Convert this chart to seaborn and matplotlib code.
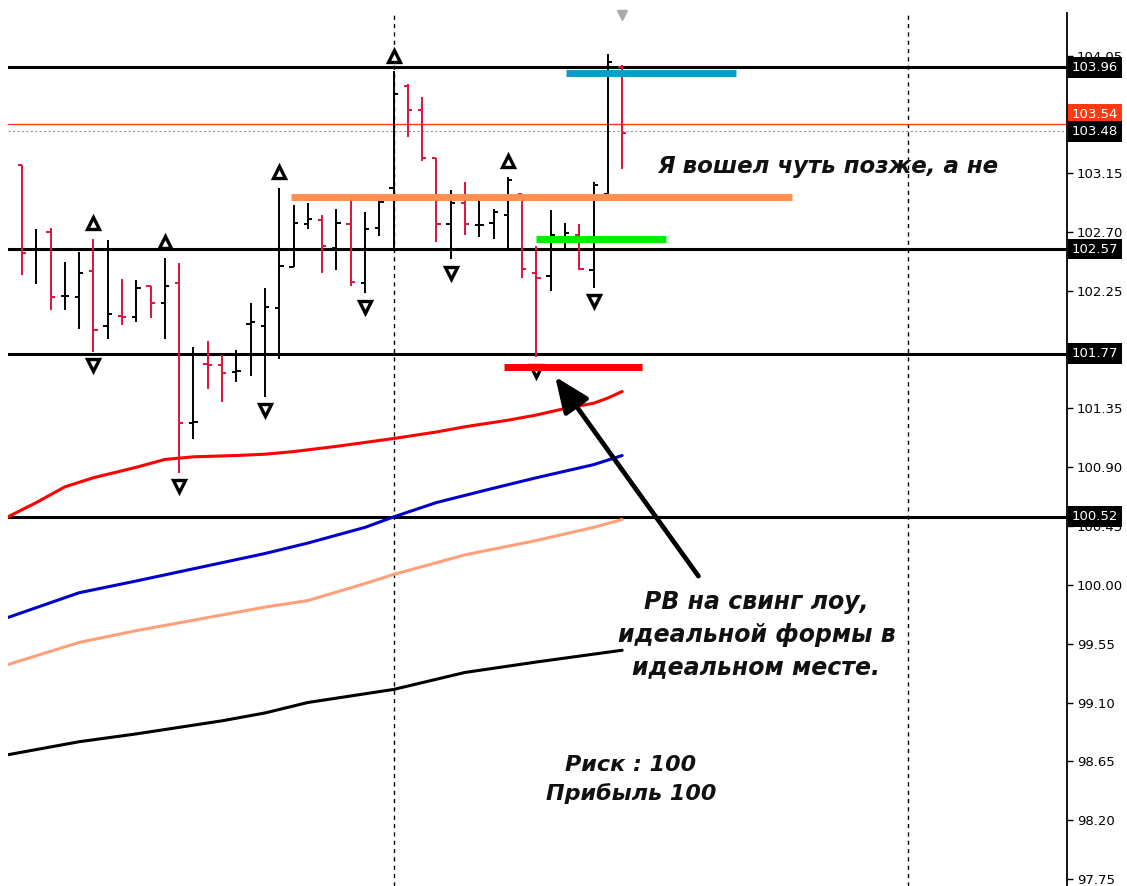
import matplotlib
matplotlib.use("Agg")
import matplotlib.pyplot as plt
import matplotlib.transforms as mtransforms
import numpy as np
import pandas as pd
import seaborn as sns


# OHLC bars (one per bar, left to right)
opens = [103.21, 102.56, 102.70, 102.21, 102.20, 102.40, 101.98, 102.06, 102.05, 102.29,
         102.16, 102.31, 101.24, 101.69, 101.68, 101.63, 102.00, 101.98, 102.12, 102.43,
         102.76, 102.79, 102.58, 102.76, 102.31, 102.73, 103.04, 103.82, 103.63, 103.27,
         102.76, 102.92, 102.75, 102.77, 102.83, 102.99, 102.39, 102.36, 102.64, 102.68,
         102.41, 102.99, 103.96]
highs = [103.21, 102.72, 102.73, 102.47, 102.55, 102.65, 102.64, 102.34, 102.33, 102.29,
         102.50, 102.46, 101.82, 101.87, 101.76, 101.80, 102.16, 102.27, 103.04, 102.91,
         102.92, 102.83, 102.88, 102.95, 102.85, 102.95, 103.93, 103.83, 103.73, 103.27,
         103.02, 103.08, 102.94, 102.88, 103.12, 102.99, 102.59, 102.87, 102.77, 102.76,
         103.08, 104.06, 103.98]
lows = [102.37, 102.30, 102.10, 102.10, 101.96, 101.78, 101.88, 101.99, 102.01, 102.04,
        101.88, 100.86, 101.12, 101.50, 101.40, 101.55, 101.60, 101.44, 101.73, 102.43,
        102.72, 102.39, 102.41, 102.29, 102.23, 102.67, 102.57, 103.43, 103.24, 102.62,
        102.49, 102.68, 102.66, 102.65, 102.57, 102.35, 101.74, 102.25, 102.57, 102.41,
        102.27, 102.98, 103.18]
closes = [102.54, 102.57, 102.20, 102.21, 102.39, 101.95, 102.07, 102.05, 102.27, 102.16,
          102.29, 101.24, 101.25, 101.68, 101.62, 101.64, 102.01, 102.13, 102.44, 102.77,
          102.80, 102.59, 102.77, 102.32, 102.72, 102.93, 103.76, 103.63, 103.27, 102.76,
          102.92, 102.76, 102.75, 102.85, 103.10, 102.42, 102.35, 102.68, 102.69, 102.42,
          103.06, 104.00, 103.46]

# fractal marks (bar indices)
frac_up = [5, 10, 18, 26, 34]
frac_down = [5, 11, 17, 24, 30, 36, 40]

# moving averages: (bar index, value) readings
ma_red_x = [-1, 1, 3, 5, 8, 10, 12, 15, 17, 19, 22, 26, 29, 31, 34, 36, 38, 40, 41, 42]
ma_red_y = [100.52, 100.63, 100.75, 100.82, 100.90, 100.96, 100.98, 100.99, 101.00, 101.02,
            101.06, 101.12, 101.17, 101.21, 101.26, 101.30, 101.35, 101.39, 101.43, 101.48]
ma_blue_x = [-1, 4, 8, 11, 14, 17, 20, 24, 26, 29, 33, 36, 40, 42]
ma_blue_y = [99.75, 99.94, 100.03, 100.10, 100.17, 100.24, 100.32, 100.44, 100.52, 100.63,
             100.74, 100.82, 100.92, 100.99]
ma_salmon_x = [-1, 4, 8, 11, 14, 17, 20, 24, 26, 31, 36, 40, 42]
ma_salmon_y = [99.39, 99.56, 99.65, 99.71, 99.77, 99.83, 99.88, 100.01, 100.08, 100.23,
               100.34, 100.44, 100.50]
ma_black_x = [-1, 4, 8, 11, 14, 17, 20, 23, 26, 31, 36, 42]
ma_black_y = [98.70, 98.80, 98.86, 98.91, 98.96, 99.02, 99.10, 99.15, 99.20, 99.33, 99.41,
              99.50]

# horizontal levels
levels = [103.96, 102.57, 101.77, 100.52]
bid_level = 103.53
ask_level = 103.47
vlines_at = [26, 62]

# drawn segments: (x0, x1, price, colour)
segments = [
    (38.1, 50.0, 103.92, "#0E9BCB"),
    (18.8, 53.9, 102.97, "#FF9050"),
    (36.0, 45.1, 102.65, "#00EE00"),
    (33.7, 43.4, 101.67, "#FF0000"),
]

yticks = [97.75, 98.20, 98.65, 99.10, 99.55, 100.00, 100.45, 100.90, 101.35,
          101.80, 102.25, 102.70, 103.15, 103.60, 104.05]

sns.set_style("white")
plt.rcParams["font.family"] = ["DejaVu Sans"]

fig = plt.figure(figsize=(11.27, 8.86), dpi=100)
ax = fig.add_axes([8 / 1127, 0, 1059 / 1127, 873 / 886])
ax.set_xlim(-0.98, 73.13)
ax.set_ylim(97.696, 104.376)

# levels and vertical separators
for lv in levels:
    ax.axhline(lv, color="black", lw=2.2, zorder=2)
ax.axhline(bid_level, color="#FF3A10", lw=1.0, zorder=2)
ax.axhline(ask_level, color="#999999", lw=0.8, ls=(0, (2, 2)), zorder=2)
for vx in vlines_at:
    ax.axvline(vx, color="black", lw=1.0, ls=(0, (3, 3)), zorder=1)

# moving averages
for xs, ys, col in [(ma_red_x, ma_red_y, "#FF0000"), (ma_blue_x, ma_blue_y, "#0000CC"),
                    (ma_salmon_x, ma_salmon_y, "#FFA07A"), (ma_black_x, ma_black_y, "black")]:
    df = pd.DataFrame({"x": xs, "y": ys})
    sns.lineplot(data=df, x="x", y="y", ax=ax, color=col, lw=2.2, estimator=None,
                 sort=False, zorder=3)

# OHLC bars
idx = np.arange(len(opens))
colors = ["black" if c >= o else "#DC143C" for o, c in zip(opens, closes)]
ax.vlines(idx, lows, highs, colors=colors, lw=1.4, zorder=4)
ax.hlines(opens, idx - 0.3, idx, colors=colors, lw=1.4, zorder=4)
ax.hlines(closes, idx, idx + 0.3, colors=colors, lw=1.4, zorder=4)

# fractals
ax.plot(frac_up, [highs[i] + 0.12 for i in frac_up], ls="none", marker="^", ms=8,
        mfc="white", mec="black", mew=2.4, zorder=5)
ax.plot(frac_down, [lows[i] - 0.10 for i in frac_down], ls="none", marker="v", ms=8,
        mfc="white", mec="black", mew=2.4, zorder=5)
ax.plot([42], [104.36], ls="none", marker="v", ms=7, color="#AAAAAA", clip_on=False)

# coloured segments
for x0, x1, p, col in segments:
    ax.hlines(p, x0, x1, colors=col, lw=5, zorder=6)

# arrow
ax.annotate("", xy=(37.2, 101.61), xytext=(47.45, 100.05),
            arrowprops=dict(arrowstyle="-|>,head_length=0.9,head_width=0.38",
                            mutation_scale=24, lw=3.4, color="black"), zorder=7)

font = dict(family="DejaVu Sans", weight="bold", style="italic", color="#111111")
ax.text(56.4, 103.20, "Я вошел чуть позже, а не", ha="center", va="center",
        fontsize=16.5, **font)
ax.text(51.4, 99.62, "PB на свинг лоу,\nидеальной формы в\nидеальном месте.",
        ha="center", va="center", linespacing=1.45, fontsize=17, **font)
ax.text(42.6, 98.51, "Риск : 100\nПрибыль 100", ha="center", va="center",
        linespacing=1.45, fontsize=16, **font)

# axis styling
for s in ["left", "top", "bottom"]:
    ax.spines[s].set_visible(False)
ax.spines["right"].set_linewidth(1.3)
ax.spines["right"].set_color("black")
ax.yaxis.tick_right()
ax.set_yticks(yticks)
ax.set_yticklabels([f"{v:.2f}" for v in yticks])
ax.tick_params(axis="y", direction="out", length=4, width=1, pad=3, labelsize=9.5,
               colors="black")
ax.set_xticks([])
ax.set_xlabel("")
ax.set_ylabel("")

# price labels on the axis
trans = mtransforms.blended_transform_factory(ax.transAxes, ax.transData)
ax.text(1.0045, bid_level + 0.07, f"{bid_level + 0.01:.2f}", transform=trans, ha="left",
        va="center", fontsize=9.5, color="white", clip_on=False, zorder=9,
        bbox=dict(boxstyle="square,pad=0.3", fc="#FF3A10", ec="none"))
for lv in levels + [ask_level]:
    ax.text(1.0045, lv, f"{lv + (0.01 if lv == ask_level else 0):.2f}", transform=trans,
            ha="left", va="center", fontsize=9.5, color="white", clip_on=False, zorder=10,
            bbox=dict(boxstyle="square,pad=0.3", fc="black", ec="none"))

fig.savefig("out.png", dpi=100)
